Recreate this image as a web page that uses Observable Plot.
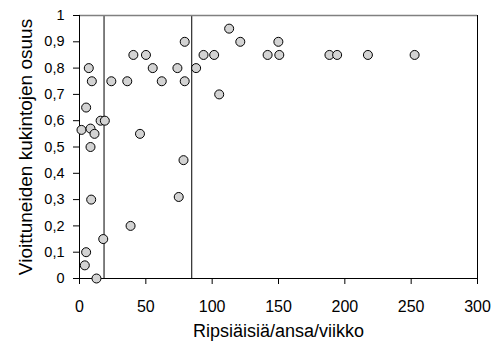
<!DOCTYPE html>
<html><head><meta charset="utf-8">
<script src="https://cdn.jsdelivr.net/npm/d3@7"></script>
<script src="https://cdn.jsdelivr.net/npm/@observablehq/plot@0.6"></script>
<style>body{margin:0;background:#fff} svg{font-family:"Liberation Sans",Arial,sans-serif}</style>
</head><body><div id="chart"></div>
<script>
const thrips = [1.5, 4, 5, 5, 7, 8.3, 8.3, 8.8, 9.3, 11.3, 12.8, 15.9, 17.9, 19.1, 24, 36, 38.5, 40.6, 45.6, 50.1, 55.2, 62, 73.8, 74.8, 78.4, 79.3, 79.3, 87.9, 93.5, 101.5, 105.3, 112.8, 121.2, 141.8, 149.9, 150.6, 188.4, 194.2, 217.4, 252.6];
const damage = [0.565, 0.05, 0.10, 0.65, 0.80, 0.57, 0.50, 0.30, 0.75, 0.55, 0, 0.60, 0.15, 0.60, 0.75, 0.75, 0.20, 0.85, 0.55, 0.85, 0.80, 0.75, 0.80, 0.31, 0.45, 0.90, 0.75, 0.80, 0.85, 0.85, 0.70, 0.95, 0.90, 0.85, 0.90, 0.85, 0.85, 0.85, 0.85, 0.85];
const xTicks = [0, 50, 100, 150, 200, 250, 300];
const yTicks = [0, 0.1, 0.2, 0.3, 0.4, 0.5, 0.6, 0.7, 0.8, 0.9, 1];
const thresholds = [18.5, 84.6];
const xTitle = "Ripsiäisiä/ansa/viikko";
const yTitle = "Vioittuneiden kukintojen osuus";

const data = thrips.map((x, i) => ({x, y: damage[i]}));
const fmt = d => d === 0 ? "0" : d === 1 ? "1" : d.toFixed(1).replace(".", ",");

const plot = Plot.plot({
  width: 497, height: 341,
  marginLeft: 79, marginRight: 20, marginTop: 15, marginBottom: 63,
  style: {fontFamily: "Liberation Sans, Arial, sans-serif", background: "#fff", overflow: "visible", color: "#000"},
  x: {domain: [0, 300]},
  y: {domain: [0, 1]},
  marks: [
    Plot.ruleX(thresholds, {y1: 0, y2: 1, stroke: "#000", strokeWidth: 1}),
    Plot.ruleY([1], {x1: 0, x2: 300, stroke: "#808080", strokeWidth: 1.5}),
    Plot.ruleX([300], {y1: 0, y2: 1, stroke: "#000"}),
    Plot.axisX({ticks: xTicks, tickSize: 6, tickPadding: 16, label: null, fontSize: 16}),
    Plot.axisY({ticks: yTicks, tickSize: 6, tickPadding: 9, tickFormat: fmt, label: null, fontSize: 14.5}),
    Plot.ruleX([0], {stroke: "#000"}),
    Plot.ruleY([0], {stroke: "#000"}),
    Plot.dot(data, {x: "x", y: "y", r: 4.5, fill: "#d3d3d3", stroke: "#000", strokeWidth: 1}),
    Plot.text([xTitle], {text: d => d, frameAnchor: "bottom", dy: 53, fontSize: 18, lineAnchor: "middle", textAnchor: "middle", fill: "#000"}),
    Plot.text([yTitle], {text: d => d, frameAnchor: "left", dx: -53.5, rotate: -90, fontSize: 19, lineAnchor: "middle", textAnchor: "middle", fill: "#000"})
  ]
});
document.getElementById("chart").appendChild(plot);
</script>
</body></html>
